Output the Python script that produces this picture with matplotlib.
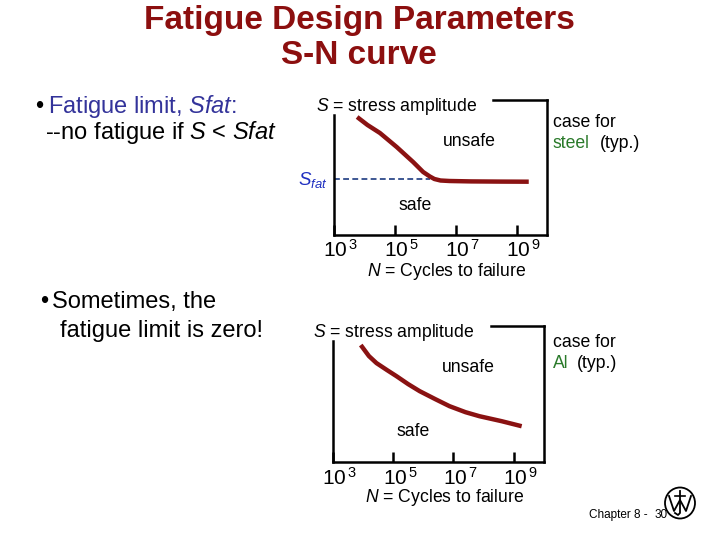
import numpy as np
import matplotlib
matplotlib.use("Agg")
import matplotlib.pyplot as plt
from matplotlib.patches import Ellipse
from matplotlib.lines import Line2D
from matplotlib.transforms import ScaledTranslation

plt.rcParams['font.family'] = ['Liberation Sans', 'DejaVu Sans']
plt.rcParams['mathtext.fontset'] = 'custom'
plt.rcParams['mathtext.rm'] = 'Liberation Sans'
plt.rcParams['mathtext.it'] = 'Liberation Sans:italic'
plt.rcParams['mathtext.bf'] = 'Liberation Sans:bold'

# ---------------- data ----------------
tick_exponents = [3, 5, 7, 9]
tick_labels = [r"$10^{\,3}$", r"$10^{\,5}$", r"$10^{\,7}$", r"$10^{\,9}$"]

steel_log_cycles = [3.76, 4.10, 4.51, 5.06, 5.60, 5.93, 6.15, 6.30, 6.50, 6.80, 7.50, 8.50, 9.40]
steel_stress = [118, 110, 102, 88, 73, 63, 58.5, 56, 54.5, 54, 53.6, 53.4, 53.3]
s_fat = 56
s_fat_end_log = 6.15

al_log_cycles = [3.93, 4.20, 4.45, 4.80, 5.11, 5.50, 5.88, 6.40, 6.87, 7.40, 7.86, 8.60, 9.26]
al_stress = [117, 106, 99, 92, 86, 78, 71, 63, 56, 50, 46, 41, 36]

# ---------------- styles ----------------
DARK_RED = '#8c0f0f'
CURVE = '#8a1212'
BLUE_TXT = '#33339a'
BLUE_S = '#1f2fc0'
DASH_BLUE = '#1d3b80'
GREEN = '#2a7a2a'

W, H = 720, 540
fig = plt.figure(figsize=(7.2, 5.4), dpi=100)
fig.patch.set_facecolor('white')

def fx(x):
    return x / W

def fy(y):
    return 1 - y / H

def make_axes(left, bottom, right, top, ymax, left_top, top_start_log):
    ax = fig.add_axes([fx(left), fy(bottom), (right - left) / W, (bottom - top) / H])
    ax.set_xscale('log')
    ax.set_xlim(1e3, 1e10)
    ax.set_ylim(0, ymax)
    ax.set_yticks([])
    ax.set_xticks([10.0 ** e for e in tick_exponents])
    ax.set_xticklabels(tick_labels)
    ax.set_xticks([], minor=True)
    ax.tick_params(axis='x', direction='in', length=7, width=1.8, pad=3,
                   labelsize=15, color='black')
    shift = ScaledTranslation(5 / 72, 0, fig.dpi_scale_trans)
    for lab in ax.get_xticklabels():
        lab.set_transform(lab.get_transform() + shift)
    for s in ax.spines.values():
        s.set_linewidth(1.8)
        s.set_color('black')
    ax.spines['left'].set_bounds(0, left_top)
    ax.spines['top'].set_bounds(10.0 ** top_start_log, 1e10)
    ax.patch.set_alpha(0)
    return ax

# top chart (steel)
ax1 = make_axes(334, 235, 547, 100, 135, 120, 8.21)
ax1.plot(10.0 ** np.array(steel_log_cycles), steel_stress, color=CURVE, lw=3.2,
         solid_capstyle='butt', zorder=3)
ax1.plot([1e3, 10.0 ** s_fat_end_log], [s_fat, s_fat], color=DASH_BLUE, lw=1.2,
         ls=(0, (3.5, 2)), zorder=2)

# bottom chart (Al)
ax2 = make_axes(332.7, 462.3, 544, 326, 136, 120.6, 8.24)
ax2.plot(10.0 ** np.array(al_log_cycles), al_stress, color=CURVE, lw=3.2,
         solid_capstyle='butt', zorder=3)

# ---------------- text ----------------
def t(x, y, s, **kw):
    kw.setdefault('va', 'baseline')
    kw.setdefault('ha', 'left')
    return fig.text(fx(x), fy(y), s, **kw)

# title
t(359, 29, "Fatigue Design Parameters", ha='center', fontsize=24, fontweight='bold', color=DARK_RED)
t(359, 64, "S-N curve", ha='center', fontsize=24, fontweight='bold', color=DARK_RED)

# left bullets
t(35, 113, "\u2022", fontsize=17, color='black')
t(48, 113, r"Fatigue limit, $\mathit{Sfat}$:", fontsize=17, color=BLUE_TXT)
t(45, 139, r"--no fatigue if $\mathit{S}$ < $\mathit{Sfat}$", fontsize=17, color='black')
t(40, 308, "\u2022", fontsize=17, color='black')
t(51.7, 308, "Sometimes, the", fontsize=17, color='black')
t(60, 337, "fatigue limit is zero!", fontsize=17, color='black')

# chart labels (top)
t(316, 110.7, r"$\mathit{S}$ = stress amplitude", fontsize=12.7)
t(469.7, 145.7, "unsafe", ha='center', fontsize=12.7)
t(415, 210, "safe", ha='center', fontsize=12.7)
t(446.7, 276, r"$\mathit{N}$ = Cycles to failure", ha='center', fontsize=12.7)
t(298, 185, r"$S_{fat}$", fontsize=13.5, color=BLUE_S)
t(552.7, 126.7, "case for", fontsize=12.7)
t(552.7, 148.3, "steel", fontsize=12.7, color=GREEN)
t(600, 148.3, "(typ.)", fontsize=12.7)

# chart labels (bottom)
t(313.3, 336.7, r"$\mathit{S}$ = stress amplitude", fontsize=12.7)
t(468, 372.3, "unsafe", ha='center', fontsize=12.7)
t(412.8, 436, "safe", ha='center', fontsize=12.7)
t(444.5, 502.5, r"$\mathit{N}$ = Cycles to failure", ha='center', fontsize=12.7)
t(553, 346.7, "case for", fontsize=12.7)
t(553, 368.3, "Al", fontsize=12.7, color=GREEN)
t(576.7, 368.3, "(typ.)", fontsize=12.7)

# footer
t(589, 518, "Chapter 8 -", fontsize=8.5)
t(655, 518, "30", fontsize=8.5)

# logo (drawn with lines)
cx, cy = 680, 503
fig.add_artist(Ellipse((fx(cx), fy(cy)), 30 / W, 31 / H, transform=fig.transFigure,
                       fill=False, lw=1.3, ec='black'))
w_pts = [(-11, -7), (-6, 8), (0, -3), (6, 8), (11, -7)]
fig.add_artist(Line2D([fx(cx + p[0]) for p in w_pts], [fy(cy + p[1]) for p in w_pts],
                      transform=fig.transFigure, color='black', lw=1.3))
j_pts = [(0, -12), (0, 10), (-2, 12), (-5, 10)]
fig.add_artist(Line2D([fx(cx + p[0]) for p in j_pts], [fy(cy + p[1]) for p in j_pts],
                      transform=fig.transFigure, color='black', lw=1.3))
bar_pts = [(-5, -7), (5, -7)]
fig.add_artist(Line2D([fx(cx + p[0]) for p in bar_pts], [fy(cy + p[1]) for p in bar_pts],
                      transform=fig.transFigure, color='black', lw=1.2))

fig.savefig("out.png", dpi=100, facecolor='white')
